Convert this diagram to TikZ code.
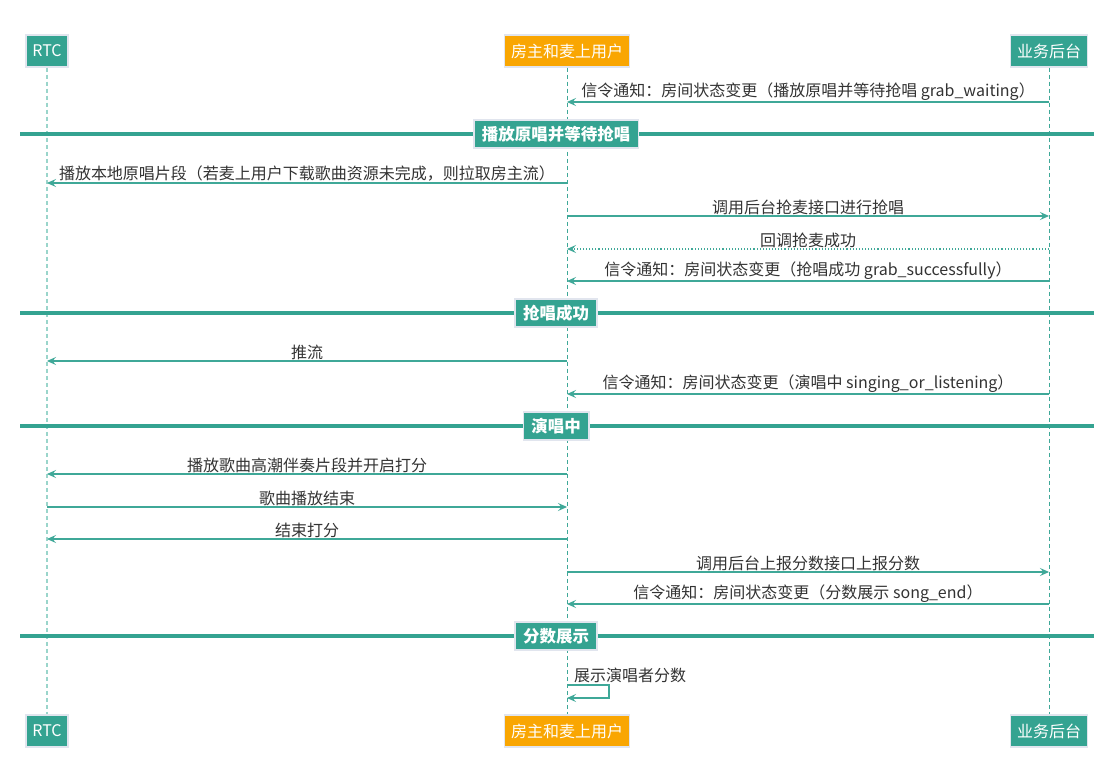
\documentclass[tikz,border=0pt]{standalone}
\usepackage{fontspec}
\setmainfont{Noto Sans CJK SC}
\usetikzlibrary{arrows.meta}
\definecolor{teal1}{HTML}{34A391}
\definecolor{teal2}{HTML}{3FA898}
\definecolor{lifeL}{HTML}{9AD5CB}
\definecolor{orng}{HTML}{F9A602}
\definecolor{bord}{HTML}{E1E5EE}
\definecolor{txt}{HTML}{333333}
\begin{document}
\begin{tikzpicture}[x=1pt,y=-1pt,
  actor/.style={draw=bord, line width=1.5pt, fill=teal1, text=white, minimum height=32pt, inner xsep=6.5pt, inner ysep=0pt, font=\fontsize{16}{18}\selectfont},
  actorO/.style={actor, fill=orng},
  life/.style={teal2, line width=1pt, dash pattern=on 4pt off 3pt},
  msg/.style={teal2, line width=1.1pt, -{Stealth[length=9pt,width=8pt,inset=3.5pt]}},
  ret/.style={msg, dotted},
  lbl/.style={text=txt, font=\fontsize{16}{18}\selectfont, inner sep=0pt, anchor=south},
  bar/.style={teal1, line width=4pt},
  sect/.style={draw=bord, line width=1.5pt, fill=teal1, text=white, minimum height=28pt, inner xsep=8pt, inner ysep=0pt, font=\fontsize{16.5}{18}\selectfont\bfseries},
]
\useasboundingbox (0,0) rectangle (1120,784);
\fill[white] (0,0) rectangle (1120,784);
% actors
\node[actor]  (rtcT)  at (47,51)   {RTC};
\node[actorO] (hostT) at (567,51)  {房主和麦上用户};
\node[actor]  (bkT)   at (1049,51) {业务后台};
\node[actor]  (rtcB)  at (47,731)  {RTC};
\node[actorO] (hostB) at (567,731) {房主和麦上用户};
\node[actor]  (bkB)   at (1049,731){业务后台};
% lifelines
\draw[life, lifeL, line width=1.6pt] (rtcT.south) -- (rtcB.north);
\draw[life] (hostT.south) -- (hostB.north);
\draw[life] (bkT.south) -- (bkB.north);
% messages
\draw[msg] (bkT |- 0,102) -- node[lbl, above=1pt, midway]{信令通知：房间状态变更（播放原唱并等待抢唱 grab\_waiting）} (hostT |- 0,102);
% section 1
\draw[bar] (20,134) -- (1094,134);
\node[sect] (s1) at (556,134) {播放原唱并等待抢唱};
\draw[msg] (hostT |- 0,183) -- node[lbl, above=1pt, midway]{播放本地原唱片段（若麦上用户下载歌曲资源未完成，则拉取房主流）} (rtcT |- 0,183);
\draw[msg] (hostT |- 0,216) -- node[lbl, above=1pt, midway]{调用后台抢麦接口进行抢唱} (bkT |- 0,216);
\draw[ret] (bkT |- 0,249) -- node[lbl, above=1pt, midway]{回调抢麦成功} (hostT |- 0,249);
\draw[msg] (bkT |- 0,281) -- node[lbl, above=1pt, midway]{信令通知：房间状态变更（抢唱成功 grab\_successfully）} (hostT |- 0,281);
% section 2
\draw[bar] (20,313) -- (1094,313);
\node[sect] (s2) at (556,313) {抢唱成功};
\draw[msg] (hostT |- 0,361) -- node[lbl, above=1pt, midway]{推流} (rtcT |- 0,361);
\draw[msg] (bkT |- 0,394) -- node[lbl, above=1pt, midway]{信令通知：房间状态变更（演唱中 singing\_or\_listening）} (hostT |- 0,394);
% section 3
\draw[bar] (20,426) -- (1094,426);
\node[sect] (s3) at (556,426) {演唱中};
\draw[msg] (hostT |- 0,474) -- node[lbl, above=1pt, midway]{播放歌曲高潮伴奏片段并开启打分} (rtcT |- 0,474);
\draw[msg] (rtcT |- 0,507) -- node[lbl, above=1pt, midway]{歌曲播放结束} (hostT |- 0,507);
\draw[msg] (hostT |- 0,539) -- node[lbl, above=1pt, midway]{结束打分} (rtcT |- 0,539);
\draw[msg] (hostT |- 0,572) -- node[lbl, above=1pt, midway]{调用后台上报分数接口上报分数} (bkT |- 0,572);
\draw[msg] (bkT |- 0,604) -- node[lbl, above=1pt, midway]{信令通知：房间状态变更（分数展示 song\_end）} (hostT |- 0,604);
% section 4
\draw[bar] (20,636) -- (1094,636);
\node[sect] (s4) at (556,636) {分数展示};
% self message
\coordinate (loopA) at (609,685);
\coordinate (loopB) at (609,698);
\draw[msg] (hostT |- loopA) -- (loopA) -- (loopB) -- (hostT |- loopB);
\node[lbl, anchor=west] (selfl) at (574,675) {展示演唱者分数};
\end{tikzpicture}
\end{document}
